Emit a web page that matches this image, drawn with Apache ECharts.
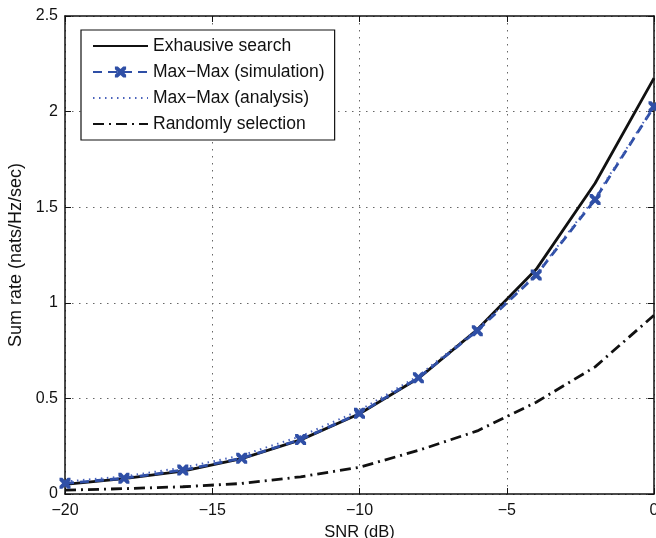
<!DOCTYPE html>
<html>
<head>
<meta charset="utf-8">
<script src="https://cdn.jsdelivr.net/npm/echarts@6/dist/echarts.min.js"></script>
<style>
  html, body { margin: 0; padding: 0; background: #fff; }
  #chart { width: 656px; height: 538px; }
</style>
</head>
<body>
<div id="chart"></div>
<script>
// SNR grid (dB)
const snr = [-20, -18, -16, -14, -12, -10, -8, -6, -4, -2, 0];

// Sum rate (nats/Hz/sec) per scheme
const exhaustive = [0.05, 0.08, 0.12, 0.185, 0.283, 0.42, 0.605, 0.86, 1.175, 1.625, 2.175];
const maxMaxSim = [0.056, 0.082, 0.125, 0.187, 0.285, 0.422, 0.608, 0.854, 1.145, 1.54, 2.026];
const maxMaxAna = [0.065, 0.092, 0.138, 0.202, 0.302, 0.437, 0.618, 0.862, 1.15, 1.55, 2.03];
const randomSel = [0.02, 0.028, 0.038, 0.055, 0.09, 0.14, 0.228, 0.33, 0.48, 0.665, 0.935];

const seriesNames = ['Exhausive search', 'Max\u2212Max (simulation)', 'Max\u2212Max (analysis)', 'Randomly selection'];

// axis ticks
const xTicks = [-20, -15, -10, -5, 0];
const yTicks = [0, 0.5, 1, 1.5, 2, 2.5];

const FONT = "'Liberation Sans', Arial, Helvetica, sans-serif";
const BLUE = '#2f4fa6';
const CROSS = 'path://M0,0 L2.6,0 L5,2.4 L7.4,0 L10,0 L10,2.6 L7.6,5 L10,7.4 L10,10 L7.4,10 L5,7.6 L2.6,10 L0,10 L0,7.4 L2.4,5 L0,2.6 Z';

const pairs = ys => snr.map((x, i) => [x, ys[i]]);
const fmtMinus = v => String(v).replace('-', '\u2212');

const baseX = {
  type: 'value', min: xTicks[0], max: xTicks[xTicks.length - 1], interval: 5,
  axisLine: { show: true, onZero: false, lineStyle: { color: '#111', width: 1.5 } },
  axisTick: { show: true, inside: true, length: 6, lineStyle: { color: '#111', width: 1 } }
};
const baseY = {
  type: 'value', min: yTicks[0], max: yTicks[yTicks.length - 1], interval: 0.5,
  axisLine: { show: true, onZero: false, lineStyle: { color: '#111', width: 1.5 } },
  axisTick: { show: true, inside: true, length: 6, lineStyle: { color: '#111', width: 1 } }
};
const gridDots = { show: true, lineStyle: { color: '#666', width: 1, type: [1.5, 5.5] } };

// legend entries: line-only series hide the centre symbol
const legendData = seriesNames.map((name, i) =>
  i === 1 ? { name } : { name, itemStyle: { opacity: 0 } });

const chart = echarts.init(document.getElementById('chart'), null, { renderer: 'canvas' });
chart.setOption({
  animation: false,
  backgroundColor: '#fff',
  textStyle: { fontFamily: FONT },
  grid: { left: 65, right: 2, top: 16, bottom: 44, outerBoundsMode: 'none', containLabel: false },
  xAxis: [
    Object.assign({}, baseX, {
      position: 'bottom',
      name: 'SNR (dB)', nameLocation: 'middle', nameGap: 27,
      nameTextStyle: { fontSize: 16.5, color: '#111', fontFamily: FONT },
      axisLabel: { fontSize: 16, color: '#111', margin: 9, fontFamily: FONT, formatter: fmtMinus },
      splitLine: gridDots
    }),
    Object.assign({}, baseX, {
      position: 'top', axisLabel: { show: false }, splitLine: { show: false }
    })
  ],
  yAxis: [
    Object.assign({}, baseY, {
      position: 'left',
      name: 'Sum rate (nats/Hz/sec)', nameLocation: 'middle', nameGap: 38,
      nameTextStyle: { fontSize: 18, color: '#111', fontFamily: FONT },
      axisLabel: { fontSize: 16, color: '#111', margin: 7, fontFamily: FONT },
      splitLine: gridDots
    }),
    Object.assign({}, baseY, {
      position: 'right', axisLabel: { show: false }, splitLine: { show: false }
    })
  ],
  legend: {
    orient: 'vertical', left: 81, top: 30,
    padding: [7, 10, 7, 11],
    itemWidth: 55, itemHeight: 14, itemGap: 8,
    backgroundColor: '#fff', borderColor: '#111', borderWidth: 1.2,
    textStyle: { fontSize: 17.5, color: '#111', fontFamily: FONT },
    data: legendData
  },
  series: [
    {
      name: seriesNames[0], type: 'line', data: pairs(exhaustive),
      symbol: 'none', lineStyle: { color: '#111', width: 2.8 }, itemStyle: { color: '#111' }
    },
    {
      name: seriesNames[1], type: 'line', data: pairs(maxMaxSim),
      symbol: CROSS, symbolSize: 11, showSymbol: true,
      lineStyle: { color: BLUE, width: 2.8, type: [9, 6] }, itemStyle: { color: BLUE }
    },
    {
      name: seriesNames[2], type: 'line', data: pairs(maxMaxAna),
      symbol: 'none', lineStyle: { color: '#4a63bb', width: 2, type: [1.5, 4.5] }, itemStyle: { color: '#4a63bb' }
    },
    {
      name: seriesNames[3], type: 'line', data: pairs(randomSel),
      symbol: 'none', lineStyle: { color: '#111', width: 2.8, type: [11, 5, 2, 5] }, itemStyle: { color: '#111' }
    }
  ]
});
</script>
</body>
</html>
